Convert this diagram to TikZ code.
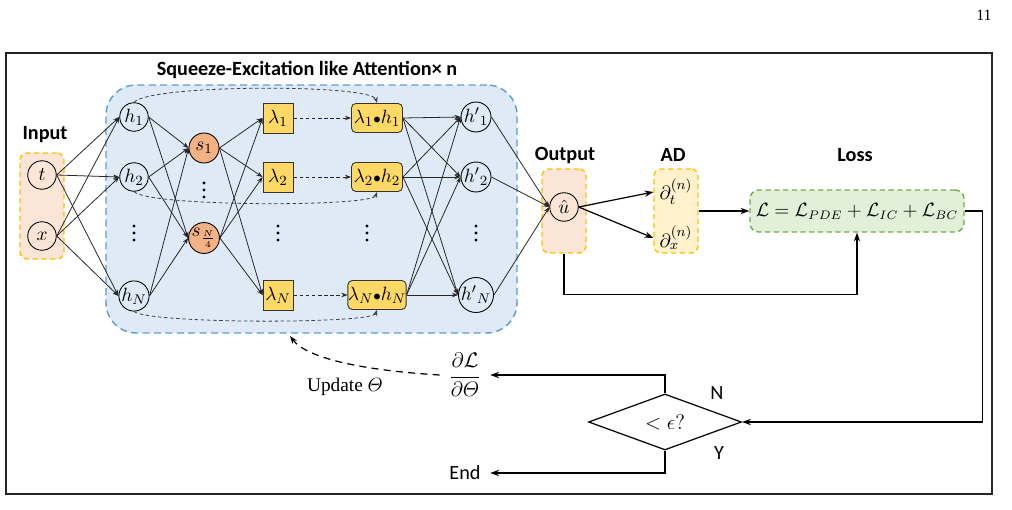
\documentclass[tikz,border=0pt]{standalone}
\usepackage{amsmath}
\usepackage{fontspec}
\setsansfont{Carlito}
\newfontfamily\timesfont{Liberation Serif}
\usetikzlibrary{arrows.meta,shapes.geometric}
\definecolor{inorange}{HTML}{FBE5D6}
\definecolor{goldrand}{HTML}{FFC000}
\definecolor{adgelb}{HTML}{FFF2CC}
\definecolor{lossgruen}{HTML}{E2F0D9}
\definecolor{gruenrand}{HTML}{70AD47}
\definecolor{attblau}{HTML}{DEEBF7}
\definecolor{blaurand}{HTML}{5B9BD5}
\definecolor{sorange}{HTML}{F4B183}
\definecolor{lamgelb}{HTML}{FFD966}
\tikzset{
	neuron/.style={circle, draw=black, line width=0.5pt, minimum size=0.57cm, inner sep=0pt, font=\fontsize{11}{13}\selectfont},
	snode/.style={neuron, fill=sorange, minimum size=0.6cm},
	lambox/.style={draw=black!80, line width=0.5pt, fill=lamgelb, minimum size=0.6cm, inner sep=0pt, font=\fontsize{11}{13}\selectfont},
	prodbox/.style={lambox, rounded corners=2.5pt, minimum width=1.02cm, minimum height=0.58cm},
	gruppe/.style={draw=goldrand, line width=0.8pt, dash pattern=on 3pt off 2pt, rounded corners=4pt},
	titel/.style={font=\sffamily\bfseries\fontsize{11.5}{13}\selectfont},
	schrift/.style={font=\sffamily\fontsize{11.5}{13}\selectfont},
	netz/.style={black!85, line width=0.45pt, -{Stealth[length=3.5pt,width=2.6pt]}},
	strich/.style={dash pattern=on 2pt off 1.5pt},
	pfeil/.style={line width=0.7pt, -{Stealth[length=5pt,width=3.6pt]}}
}
\begin{document}
\begin{tikzpicture}[x=0.02cm, y=-0.02cm]
	\useasboundingbox (0,0) rectangle (1012,510);
	% Rahmen
	\draw[line width=0.8pt, black!85] (6,53) rectangle (992,494);
	\node (seite) at (984,15) {\timesfont\fontsize{9}{10}\selectfont 11};
	% Gruppen
	\node[draw=blaurand, fill=attblau, line width=0.8pt, dash pattern=on 4pt off 2.5pt, rounded corners=0.6cm, minimum width=8.22cm, minimum height=4.96cm] (att) at (311.5,209) {};
	\node[titel] (atttitel) at (307,70) {Squeeze-Excitation like Attention× n};
	\node[gruppe, fill=inorange, minimum width=0.88cm, minimum height=2.12cm] (inbox) at (42,206) {};
	\node[titel] (intitel) at (45,135) {Input};
	\node[gruppe, fill=inorange, minimum width=0.88cm, minimum height=1.68cm] (outbox) at (564,211) {};
	\node[titel] (outtitel) at (565,155) {Output};
	\node[gruppe, fill=adgelb, minimum width=0.88cm, minimum height=1.68cm] (adbox) at (676,211) {};
	\node[titel] (adtitel) at (673,155) {AD};
	\node[draw=gruenrand, fill=lossgruen, line width=0.8pt, dash pattern=on 3pt off 2pt, rounded corners=5pt, minimum width=4.2cm, minimum height=0.84cm, font=\fontsize{10.5}{12}\selectfont] (loss) at (857,211) {$\mathcal{L}=\mathcal{L}_{PDE}+\mathcal{L}_{IC}+\mathcal{L}_{BC}$};
	\node[titel] (losstitel) at (855,155) {Loss};

	% Eingang
	\node[neuron] (t) at (42,175) {$t$};
	\node[neuron] (x) at (42,236) {$x$};
	% versteckte Schicht
	\node[neuron] (h1) at (134,117) {$h_1$};
	\node[neuron] (h2) at (134,177) {$h_2$};
	\node[neuron] (hN) at (134,296) {$h_N$};
	% Squeeze
	\node[snode] (s1) at (204,148) {$s_1$};
	\node[snode] (sN) at (204,238) {$s_{\frac{N}{4}}$};
	% Gewichte
	\node[lambox] (l1) at (278,118) {$\lambda_1$};
	\node[lambox] (l2) at (278,177) {$\lambda_2$};
	\node[lambox] (lN) at (278,295) {$\lambda_N$};
	\node[prodbox] (lh1) at (377,118) {$\lambda_1{\scriptstyle\bullet}h_1$};
	\node[prodbox] (lh2) at (377,177) {$\lambda_2{\scriptstyle\bullet}h_2$};
	\node[prodbox] (lhN) at (377,295) {$\lambda_N{\scriptstyle\bullet}h_N$};
	% neue Schicht
	\node[neuron] (hs1) at (476,117) {$h'{}_1$};
	\node[neuron] (hs2) at (476,177) {$h'{}_2$};
	\node[neuron] (hsN) at (476,295) {$h'{}_N$};
	% Punkte
	\foreach \x/\y in {134/233, 204/190, 278/233, 367/233, 476/233}
		\foreach \d in {-7,0,7}
			\fill (\x,\y+\d) circle (1.7);
	% Ausgang und AD
	\node[neuron] (u) at (564,207) {$\hat{u}$};
	\node[font=\fontsize{11}{13}\selectfont] (dt) at (676,192) {$\partial_t^{(n)}$};
	\node[font=\fontsize{11}{13}\selectfont] (dx) at (676,238) {$\partial_x^{(n)}$};

	% Verbindungen
	\foreach \a in {t,x}
		\foreach \b in {h1,h2,hN}
			\draw[netz] (\a.east) -- (\b.west);
	\foreach \a in {h1,h2,hN}
		\foreach \b in {s1,sN}
			\draw[netz] (\a.east) -- (\b.west);
	\foreach \a in {s1,sN}
		\foreach \b in {l1,l2,lN}
			\draw[netz] (\a.east) -- (\b.west);
	\foreach \i in {1,2,N}
		\draw[netz, strich] (l\i.east) -- (lh\i.west);
	\foreach \a in {lh1,lh2,lhN}
		\foreach \b in {hs1,hs2,hsN}
			\draw[netz] (\a.east) -- (\b.west);
	\foreach \a in {hs1,hs2,hsN}
		\draw[netz] (\a.east) -- (u.west);
	% Skip-Verbindungen
	\draw[netz, strich, black!75] (h1.north) .. controls (150,84) and (372,84) .. (lh1.north);
	\draw[netz, strich, black!75] (h2.south) .. controls (150,207) and (372,207) .. (lh2.south);
	\draw[netz, strich, black!75] (hN.south) .. controls (150,324) and (372,324) .. (lhN.south);

	% Ableitungen und Loss
	\draw[pfeil] (u.east) -- (dt.west);
	\draw[pfeil] (u.east) -- (dx.west);
	\draw[pfeil] (adbox.east) -- (loss.west);
	\draw[pfeil] (outbox.south) -- ++(0,41) -| (loss.south);

	% Abbruchbedingung
	\node[diamond, draw, line width=0.7pt, minimum width=3.06cm, minimum height=1.12cm, inner sep=0pt, font=\fontsize{12}{14}\selectfont] (dia) at (665,422) {$<\epsilon?$};
	\node[schrift] (nein) at (717,393) {N};
	\node[schrift] (ja) at (719,453) {Y};
	\node[minimum width=1cm, inner sep=0pt, font=\fontsize{11.5}{14}\selectfont] (grad) at (465,375) {$\dfrac{\partial\mathcal{L}}{\partial\varTheta}$};
	\node[schrift, minimum width=1cm, inner sep=0pt] (ende) at (465,473) {End};
	\node[font=\timesfont\fontsize{11}{13}\selectfont] (upd) at (345,387) {Update $\varTheta$};
	\coordinate (updziel) at (290,336);
	\draw[pfeil] (loss.east) -- ++(18,0) |- (dia.east);
	\draw[pfeil] (dia.north) |- (grad.east);
	\draw[pfeil] (dia.south) |- (ende.east);
	\draw[line width=0.7pt, dash pattern=on 4pt off 3pt, -{Stealth[length=4.5pt,width=3.2pt]}] (grad.west) .. controls (372,371) and (308,360) .. (updziel);
\end{tikzpicture}
\end{document}
